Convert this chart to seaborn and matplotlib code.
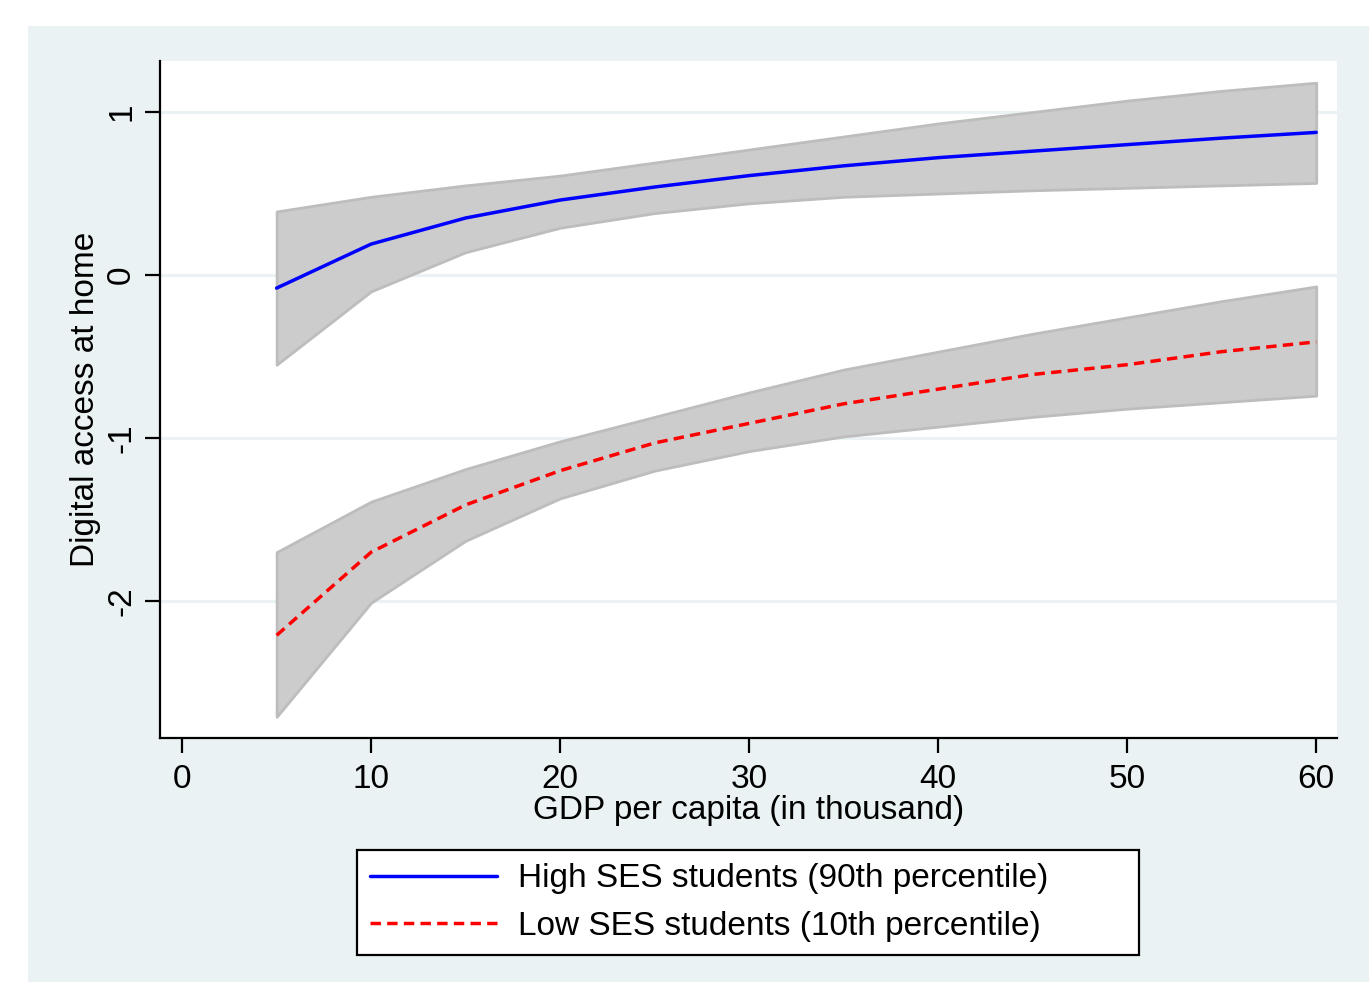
import matplotlib
matplotlib.use("Agg")
import matplotlib.pyplot as plt
from matplotlib.patches import Rectangle
import seaborn as sns
import pandas as pd

# GDP per capita grid (thousand)
gdp = [5, 10, 15, 20, 25, 30, 35, 40, 45, 50, 55, 60]

high_mean = [-0.08, 0.19, 0.35, 0.46, 0.54, 0.61, 0.67, 0.72, 0.76, 0.80, 0.84, 0.875]
high_upper = [0.39, 0.48, 0.55, 0.61, 0.69, 0.77, 0.85, 0.93, 1.00, 1.07, 1.13, 1.18]
high_lower = [-0.55, -0.10, 0.14, 0.29, 0.38, 0.44, 0.48, 0.50, 0.52, 0.535, 0.55, 0.565]

low_mean = [-2.21, -1.70, -1.41, -1.20, -1.03, -0.91, -0.79, -0.70, -0.61, -0.55, -0.47, -0.41]
low_upper = [-1.70, -1.39, -1.19, -1.02, -0.87, -0.72, -0.58, -0.47, -0.36, -0.26, -0.16, -0.07]
low_lower = [-2.71, -2.01, -1.63, -1.37, -1.20, -1.08, -0.99, -0.93, -0.87, -0.82, -0.78, -0.74]

labels = ["High SES students (90th percentile)", "Low SES students (10th percentile)"]
xticks = [0, 10, 20, 30, 40, 50, 60]
yticks = [-2, -1, 0, 1]

sns.set_theme(style="white")
plt.rcParams["font.family"] = ["Liberation Sans", "DejaVu Sans"]
plt.rcParams["axes.unicode_minus"] = False

bg = "#EAF2F3"
fs = 24
fig = plt.figure(figsize=(13.69, 9.82), dpi=100)
fig.patch.set_facecolor("white")
fig.patches.append(Rectangle((28 / 1369, 0), 1 - 28 / 1369, (982 - 26) / 982,
                             transform=fig.transFigure, facecolor=bg,
                             edgecolor="none", zorder=-5))

ax = fig.add_axes([160 / 1369, 1 - 738 / 982, (1337 - 160) / 1369, (738 - 61) / 982])
ax.set_facecolor("white")

for lo, hi in [(high_lower, high_upper), (low_lower, low_upper)]:
    ax.fill_between(gdp, lo, hi, facecolor="#CCCCCC", edgecolor="#BDBDBD",
                    linewidth=2, zorder=2)

df = pd.DataFrame({"gdp": gdp * 2, "y": high_mean + low_mean,
                   "grp": [labels[0]] * len(gdp) + [labels[1]] * len(gdp)})
sns.lineplot(data=df[df.grp == labels[0]], x="gdp", y="y", color="#0000FF",
             linewidth=2.5, ax=ax, label=labels[0], zorder=3)
sns.lineplot(data=df[df.grp == labels[1]], x="gdp", y="y", color="#FF0000",
             linewidth=2.5, ax=ax, label=labels[1], zorder=3)
ax.lines[1].set_dashes((3, 1.8))

ax.set_xlim(-1.17, 61.1)
ax.set_ylim(-2.84, 1.313)
ax.set_xticks(xticks)
ax.set_yticks(yticks)
ax.set_yticklabels([str(t) for t in yticks], rotation=90, va="center")
ax.grid(axis="y", color=bg, linewidth=2.2, zorder=0)
ax.set_axisbelow(True)

for s in ["top", "right"]:
    ax.spines[s].set_visible(False)
for s in ["left", "bottom"]:
    ax.spines[s].set_color("black")
    ax.spines[s].set_linewidth(1.6)

ax.tick_params(axis="both", direction="out", length=10.5, width=1.6, color="black",
               labelsize=fs, labelcolor="black", left=True, bottom=True)
ax.tick_params(axis="x", pad=8)
ax.tick_params(axis="y", pad=6)
ax.set_xlabel("GDP per capita (in thousand)", fontsize=fs, color="black", labelpad=0)
ax.set_ylabel("Digital access at home", fontsize=fs, color="black", labelpad=4)

ax.get_legend().remove()
handles, lbls = ax.get_legend_handles_labels()
leg = fig.legend(handles, lbls, loc="center",
                 bbox_to_anchor=(357 / 1369, 1 - 957 / 982, 782 / 1369, 109 / 982),
                 mode="expand", fontsize=fs, frameon=True, fancybox=False, framealpha=1,
                 edgecolor="black", handlelength=3.8, labelspacing=0.5,
                 borderpad=0.4, handletextpad=0.62, borderaxespad=0)
leg.get_frame().set_linewidth(1.6)
for t in leg.get_texts():
    t.set_color("black")

fig.savefig("out.png", dpi=100, facecolor=fig.get_facecolor())
